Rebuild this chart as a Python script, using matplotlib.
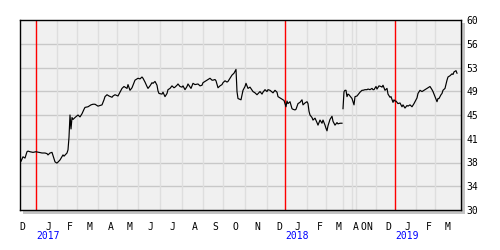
import matplotlib.pyplot as plt
from matplotlib.patches import Rectangle
from matplotlib.transforms import blended_transform_factory
import numpy as np

# x axis is a trading-session index (one session per day with data)
months = ["D", "J", "F", "M", "A", "M", "J", "J", "A", "S", "O", "N",
          "D", "J", "F", "M", "A", "O", "N", "D", "J", "F", "M"]
month_start = [-10, 16, 37, 57, 78, 97, 118, 140, 162, 183, 203, 225,
               247, 265, 287, 306, 323, 332, 336, 356, 375, 396, 415]
years = ["2017", "2018", "2019"]
year_start = [16, 265, 375]

# before the gap (Dec 2016 - Apr 2018)
s1 = [1, 3, 5, 7, 8, 10, 13, 16, 19, 22, 25, 27, 28, 30, 32, 33, 35, 37, 40, 43,
      44, 47, 48, 49, 50, 51, 52, 53, 55, 58, 60, 62, 64, 65, 68, 71, 73, 75, 78, 82,
      84, 85, 87, 89, 92, 93, 95, 98, 101, 102, 104, 107, 108, 110, 112, 113, 115, 118, 120, 122,
      123, 125, 127, 128, 130, 132, 133, 135, 137, 138, 139, 142, 143, 145, 147, 148, 150, 152, 154, 155,
      157, 158, 160, 162, 163, 165, 167, 168, 171, 173, 175, 178, 180, 182, 183, 185, 188, 190, 192, 193,
      195, 196, 198, 200, 202, 203, 205, 207, 208, 210, 212, 214, 216, 217, 218, 221, 223, 225, 226, 228,
      230, 233, 235, 237, 240, 242, 243, 245, 247, 248, 250, 253, 255, 257, 258, 260, 262, 264, 265, 266,
      267, 268, 270, 272, 273, 275, 276, 278, 280, 282, 283, 285, 287, 288, 289, 290, 292, 293, 295, 297,
      298, 300, 302, 303, 305, 306, 307, 308, 310, 312, 313, 315, 317, 318, 320, 322]
p1 = [37.7, 38.4, 38.2, 39.2, 39.3, 39.2, 39.1, 39.2, 39.1, 39.0, 39.0, 38.9, 38.7, 39.0, 39.1, 38.6, 37.6, 37.4, 37.9, 38.7,
      38.5, 39.0, 39.5, 41.5, 45.0, 42.8, 44.6, 44.3, 44.6, 45.0, 44.7, 45.2, 45.9, 46.2, 46.3, 46.6, 46.7, 46.7, 46.4, 46.6,
      47.4, 47.9, 48.2, 48.0, 47.8, 48.0, 48.2, 48.0, 48.9, 49.2, 49.5, 49.2, 49.8, 48.9, 49.3, 49.7, 50.5, 50.8, 50.7, 51.0,
      50.8, 50.2, 49.5, 49.2, 49.6, 50.1, 50.0, 50.3, 49.7, 48.8, 48.4, 48.3, 48.6, 47.9, 48.4, 49.0, 49.2, 49.6, 49.3, 49.4,
      49.7, 49.9, 49.5, 49.4, 49.6, 49.0, 49.5, 49.9, 49.2, 50.0, 49.8, 49.9, 49.6, 49.7, 50.1, 50.3, 50.6, 50.8, 50.5, 50.5,
      50.6, 50.4, 49.3, 49.6, 49.8, 50.1, 50.4, 50.2, 50.3, 50.8, 51.3, 51.6, 52.2, 48.7, 47.6, 47.4, 48.9, 49.5, 50.0, 49.2,
      49.4, 48.7, 48.5, 48.2, 48.7, 48.3, 48.6, 49.0, 48.7, 49.0, 48.9, 48.5, 48.9, 48.6, 47.9, 47.7, 47.5, 47.3, 46.8, 46.3,
      47.2, 46.8, 47.1, 46.0, 45.9, 45.8, 45.9, 46.8, 47.0, 47.4, 46.6, 46.9, 47.1, 46.8, 45.6, 45.0, 44.6, 44.2, 44.5, 43.8,
      43.4, 44.2, 43.7, 44.2, 43.4, 42.9, 42.5, 43.3, 44.3, 44.8, 44.0, 43.4, 43.8, 43.6, 43.7, 43.7]

# after the gap (Apr 2018 - Mar 2019)
s2 = [323, 324, 325, 326, 327, 328, 329, 331, 332, 333, 334, 335, 337, 339, 340, 342, 343, 345, 347, 348,
      350, 352, 353, 354, 356, 357, 359, 361, 362, 363, 365, 367, 368, 370, 371, 373, 374, 375, 376, 378,
      380, 382, 383, 385, 387, 388, 390, 392, 394, 395, 397, 398, 400, 402, 403, 405, 407, 408, 410, 412,
      413, 414, 415, 417, 418, 419, 421, 422, 423, 425, 427, 428, 430, 432, 433, 434, 436, 437]
p2 = [46.0, 48.7, 48.9, 48.9, 47.9, 48.3, 48.2, 47.8, 47.6, 47.1, 46.6, 47.9, 48.0, 48.4, 48.6, 48.9, 48.9, 49.0, 49.0, 49.1,
      49.0, 49.2, 49.0, 49.0, 49.5, 49.1, 49.6, 49.5, 49.4, 49.7, 48.9, 49.2, 48.3, 47.8, 47.9, 47.0, 47.4, 47.2, 47.2, 46.8,
      46.9, 46.3, 46.6, 46.1, 46.5, 46.4, 46.6, 46.3, 46.8, 47.1, 47.7, 48.4, 48.9, 48.7, 48.8, 49.0, 49.2, 49.3, 49.5, 49.0,
      48.7, 48.3, 47.9, 47.1, 47.6, 47.6, 48.2, 48.4, 48.9, 49.2, 50.5, 51.0, 51.2, 51.5, 51.4, 51.8, 52.0, 51.6]

y_ticks = [30, 33.75, 37.5, 41.25, 45, 48.75, 52.5, 56.25, 60]
y_labels = ["30", "34", "38", "41", "45", "49", "53", "56", "60"]

mono = "DejaVu Sans Mono"

fig = plt.figure(figsize=(5, 2.5), dpi=100)
ax = fig.add_axes([0.04, 0.16, 0.882, 0.76])
ax.set_zorder(2)

# drop shadow behind the panel
fig.patches.append(Rectangle((0.046, 0.144), 0.884, 0.764, transform=fig.transFigure,
                             facecolor="#c4c4c4", edgecolor="none", zorder=-1))

ax.set_facecolor("#f0f0f0")
ax.set_xlim(0, 441)
ax.set_ylim(30, 60)

for yv in y_ticks[1:-1]:
    ax.axhline(yv, color="#c8c8c8", lw=1, zorder=1)
for x in month_start:
    if x > 0 and x not in year_start:
        ax.axvline(x, color="#dedede", lw=1, zorder=1)
for x in year_start:
    ax.axvline(x, color="red", lw=1, zorder=2)

ax.plot(s1, p1, color="black", lw=0.85, zorder=3)
ax.plot(s2, p2, color="black", lw=0.85, zorder=3)

ax.yaxis.tick_right()
ax.set_yticks(y_ticks)
ax.set_yticklabels(y_labels, family=mono, fontsize=7)
ax.tick_params(axis="y", length=0, pad=4)
ax.set_xticks([])

# month letters sit ~12 sessions after the month start; keep short months from colliding
label_x = [x + 12.5 for x in month_start]
for i in range(1, len(label_x)):
    if label_x[i] - label_x[i - 1] < 6:
        mid = (label_x[i] + label_x[i - 1]) / 2
        label_x[i - 1], label_x[i] = mid - 3, mid + 3

trans = blended_transform_factory(ax.transData, ax.transAxes)
for m, x in zip(months, label_x):
    ax.text(x, -0.088, m, transform=trans, ha="center", va="center",
            family=mono, fontsize=7, clip_on=False)
for yr, x in zip(years, year_start):
    ax.text(x + 12.5, -0.139, yr, transform=trans, ha="center", va="center",
            family=mono, fontsize=7, color="blue", clip_on=False)

for sp in ax.spines.values():
    sp.set_color("black")
    sp.set_linewidth(1)

fig.savefig("out.png", dpi=100)
